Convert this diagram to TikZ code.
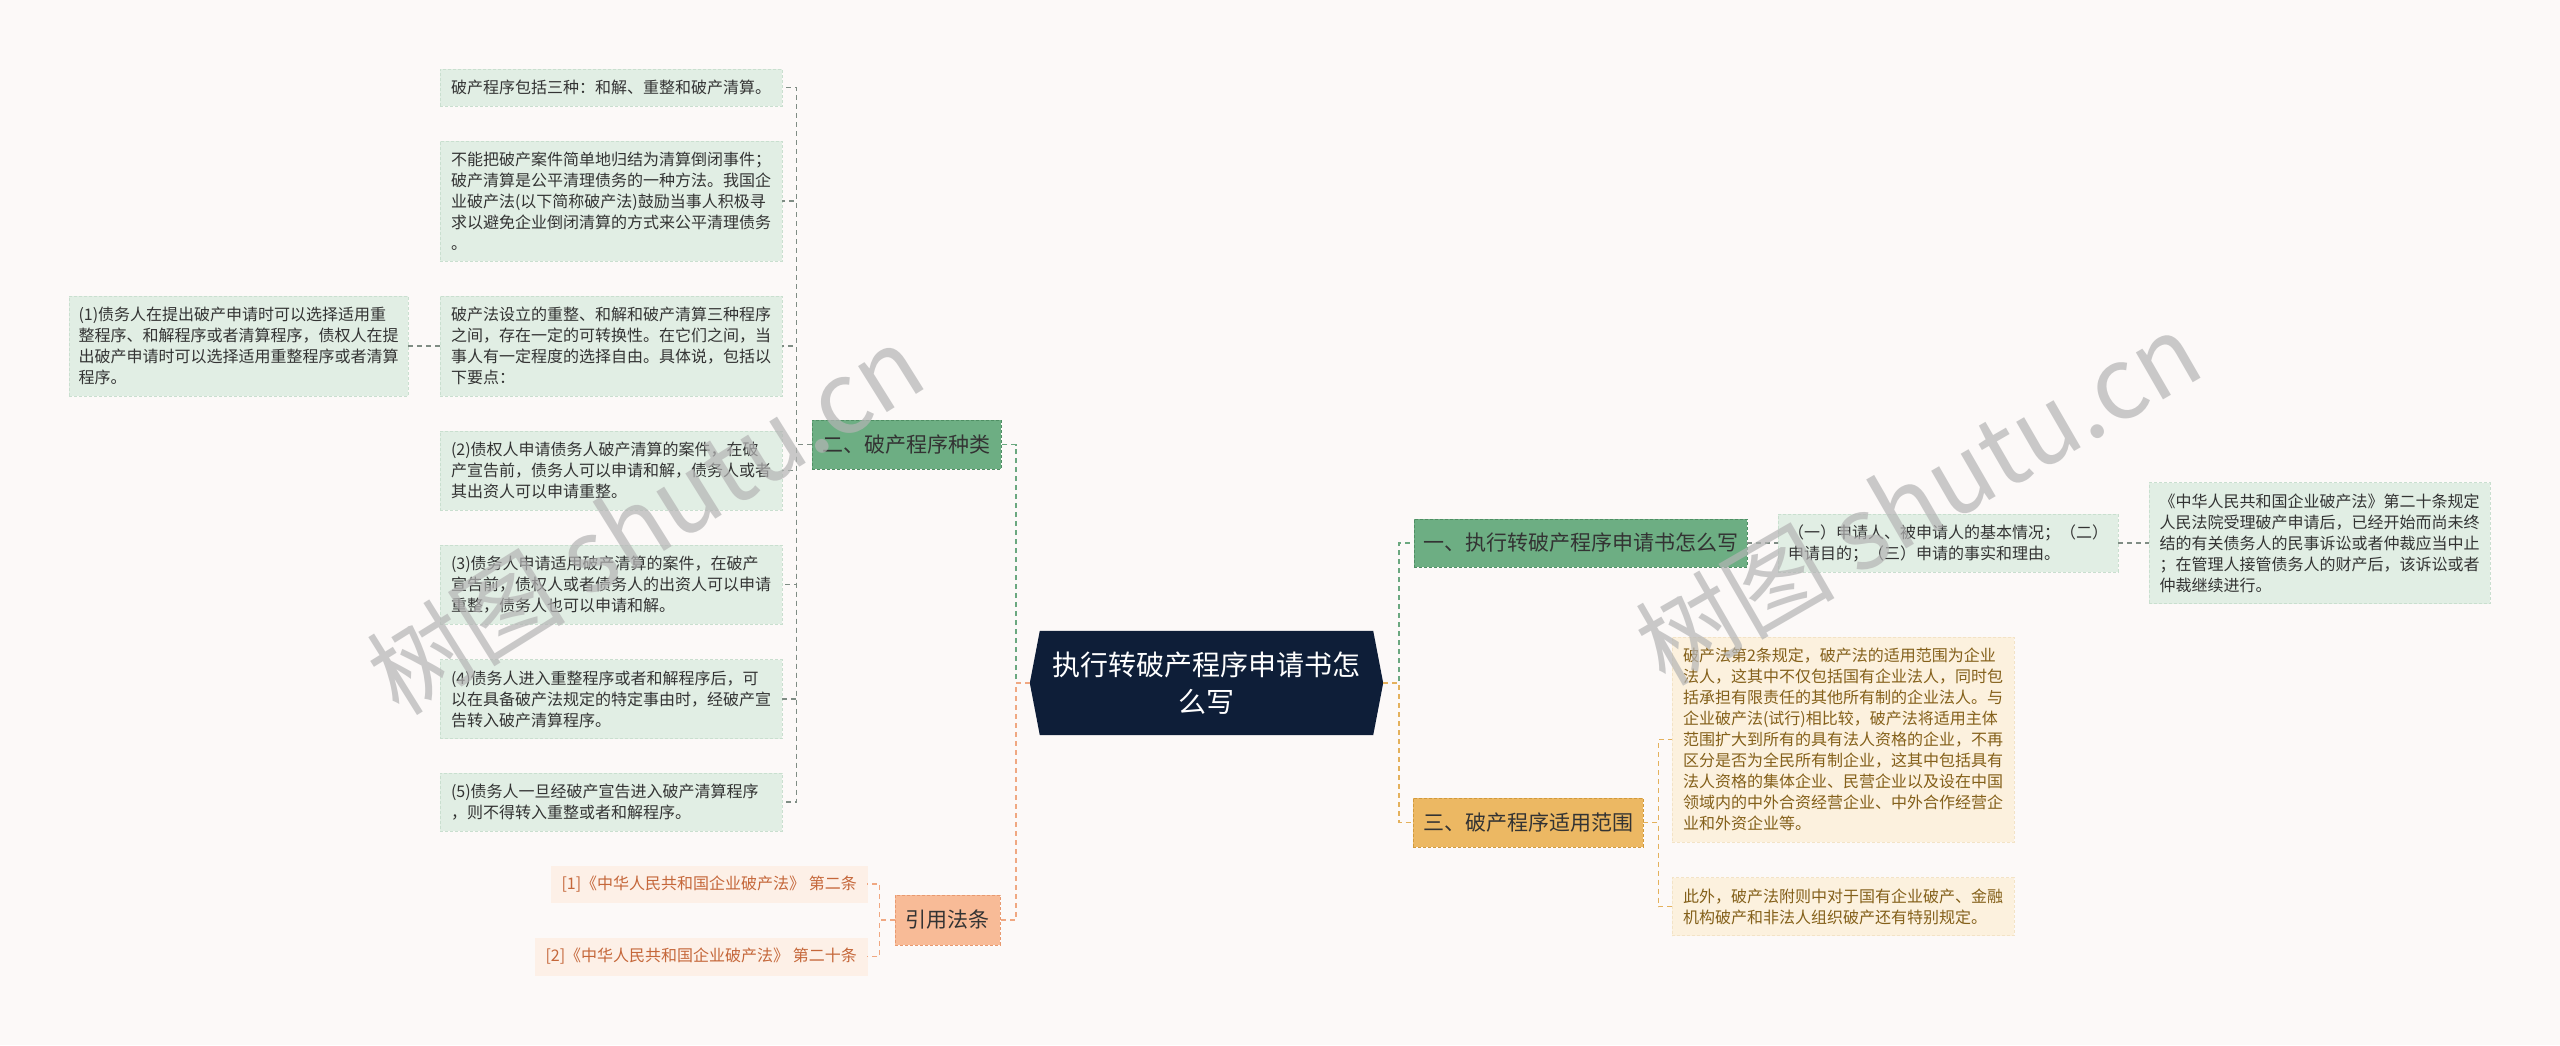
\documentclass[tikz,border=0pt]{standalone}
\usepackage{fontspec}
\setmainfont{Noto Sans CJK SC}
\usetikzlibrary{calc,backgrounds}
\definecolor{bg}{HTML}{FCF9F8}
\definecolor{navy}{HTML}{0E1E38}
\definecolor{mgreen}{HTML}{6DAE83}
\definecolor{mgreenb}{HTML}{4F8F64}
\definecolor{kgreen}{HTML}{E1EEE4}
\definecolor{kgreenb}{HTML}{C9DFCF}
\definecolor{mgold}{HTML}{ECB863}
\definecolor{mgoldb}{HTML}{D29A3C}
\definecolor{kgold}{HTML}{FCF1DE}
\definecolor{kgoldb}{HTML}{F3E3C6}
\definecolor{kgoldt}{HTML}{84601A}
\definecolor{msalm}{HTML}{F8BB97}
\definecolor{msalmb}{HTML}{E89A70}
\definecolor{ksalm}{HTML}{FDF0E7}
\definecolor{ksalmt}{HTML}{C5673A}
\definecolor{egreen}{HTML}{6BA880}
\definecolor{egold}{HTML}{E4B15C}
\definecolor{esalm}{HTML}{F0A882}
\definecolor{egray}{HTML}{7F8C84}
\definecolor{txt}{HTML}{333333}
\definecolor{wm}{HTML}{B4B4B4}
\begin{document}
\begin{tikzpicture}[x=1pt,y=-1pt,
  mainbox/.style={rectangle, draw, dashed, dash pattern=on 3pt off 2pt, line width=0.9pt, text=txt,
    font=\fontsize{21}{25}\selectfont, inner sep=2pt, anchor=center},
  greenmain/.style={mainbox, fill=mgreen, draw=mgreenb},
  goldmain/.style={mainbox, fill=mgold, draw=mgoldb},
  salmmain/.style={mainbox, fill=msalm, draw=msalmb},
  kidbox/.style={rectangle, dashed, dash pattern=on 3pt off 2pt, line width=0.7pt,
    font=\fontsize{16}{21}\selectfont, align=left, text width=320pt, inner xsep=11pt, inner ysep=3pt, anchor=center},
  greenkid/.style={kidbox, fill=kgreen, draw=kgreenb, text=txt},
  goldkid/.style={kidbox, fill=kgold, draw=kgoldb, text=kgoldt},
  citebox/.style={rectangle, fill=ksalm, draw=ksalm, text=ksalmt, font=\fontsize{16}{20}\selectfont,
    inner xsep=10pt, inner ysep=2pt, anchor=east},
  trunk/.style={line width=1.8pt, dash pattern=on 5pt off 4pt},
  twig/.style={line width=1.4pt, dash pattern=on 5pt off 4pt},
]
\useasboundingbox (0,0) rectangle (2560,1045);

% central node
\node[minimum width=333pt, minimum height=104pt, inner sep=0pt, align=center, text=white,
  font=\fontsize{28}{37}\selectfont] (C) at (1206.5,683) {执行转破产程序申请书怎\\么写};
\begin{scope}[on background layer]
\fill[bg] (0,0) rectangle (2560,1045);
\fill[navy] (C.north west) -- (C.north east) -- ($(C.east)+(10,0)$) -- (C.south east)
  -- (C.south west) -- ($(C.west)+(-10,0)$) -- cycle;
\end{scope}
\coordinate (cL) at ($(C.west)+(-10,0)$);
\coordinate (cR) at ($(C.east)+(10,0)$);

% main branches
\node[greenmain, minimum width=189pt, minimum height=49pt] (B2) at (906.5,444.5) {二、破产程序种类};
\node[greenmain, minimum width=333pt, minimum height=48pt] (B1) at (1580.5,543) {一、执行转破产程序申请书怎么写};
\node[goldmain, minimum width=230pt, minimum height=49pt] (B3) at (1528,822.5) {三、破产程序适用范围};
\node[salmmain, minimum width=105pt, minimum height=50pt] (B4) at (947.5,920) {引用法条};

% left children
\node[greenkid, minimum height=37pt] (L1) at (611,87.5)
  {破产程序包括三种：和解、重整和破产清算。};
\node[greenkid, minimum height=120pt] (L2) at (611,201)
  {不能把破产案件简单地归结为清算倒闭事件；\\破产清算是公平清理债务的一种方法。我国企\\业破产法(以下简称破产法)鼓励当事人积极寻\\求以避免企业倒闭清算的方式来公平清理债务\\。};
\node[greenkid, minimum height=100pt] (L3) at (611,346)
  {破产法设立的重整、和解和破产清算三种程序\\之间，存在一定的可转换性。在它们之间，当\\事人有一定程度的选择自由。具体说，包括以\\下要点：};
\node[greenkid, inner xsep=9.5pt, minimum height=100pt] (L3a) at (238.5,346)
  {(1)债务人在提出破产申请时可以选择适用重\\整程序、和解程序或者清算程序，债权人在提\\出破产申请时可以选择适用重整程序或者清算\\程序。};
\node[greenkid, minimum height=79pt] (L4) at (611,470.5)
  {(2)债权人申请债务人破产清算的案件，在破\\产宣告前，债务人可以申请和解，债务人或者\\其出资人可以申请重整。};
\node[greenkid, minimum height=79pt] (L5) at (611,584.5)
  {(3)债务人申请适用破产清算的案件，在破产\\宣告前，债权人或者债务人的出资人可以申请\\重整，债务人也可以申请和解。};
\node[greenkid, minimum height=79pt] (L6) at (611,699)
  {(4)债务人进入重整程序或者和解程序后，可\\以在具备破产法规定的特定事由时，经破产宣\\告转入破产清算程序。};
\node[greenkid, minimum height=58pt] (L7) at (611,802)
  {(5)债务人一旦经破产宣告进入破产清算程序\\，则不得转入重整或者和解程序。};

% right children of B1
\node[greenkid, inner xsep=10pt, minimum height=58pt] (G1) at (1948,543)
  {（一）申请人、被申请人的基本情况；（二）\\申请目的；（三）申请的事实和理由。};
\node[greenkid, inner xsep=10.5pt, minimum height=121pt] (G2) at (2319.5,543)
  {《中华人民共和国企业破产法》第二十条规定\\人民法院受理破产申请后，已经开始而尚未终\\结的有关债务人的民事诉讼或者仲裁应当中止\\；在管理人接管债务人的财产后，该诉讼或者\\仲裁继续进行。};

% children of B3
\node[goldkid, minimum height=205pt] (O1) at (1843,739.5)
  {破产法第2条规定，破产法的适用范围为企业\\法人，这其中不仅包括国有企业法人，同时包\\括承担有限责任的其他所有制的企业法人。与\\企业破产法(试行)相比较，破产法将适用主体\\范围扩大到所有的具有法人资格的企业，不再\\区分是否为全民所有制企业，这其中包括具有\\法人资格的集体企业、民营企业以及设在中国\\领域内的中外合资经营企业、中外合作经营企\\业和外资企业等。};
\node[goldkid, minimum height=58pt] (O2) at (1843,906.5)
  {此外，破产法附则中对于国有企业破产、金融\\机构破产和非法人组织破产还有特别规定。};

% citations
\node[citebox, minimum height=36pt] (C1) at (867,884) {[1]《中华人民共和国企业破产法》 第二条};
\node[citebox, minimum height=37pt] (C2) at (867,956.5) {[2]《中华人民共和国企业破产法》 第二十条};

% trunk connectors
\draw[trunk, egreen] (cL) -- ++(-14,0) |- (B2.east);
\draw[trunk, esalm] (cL) -- ++(-14,0) |- (B4.east);
\draw[trunk, egreen] (cR) -- ++(16,0) |- (B1.west);
\draw[trunk, egold] (cR) -- ++(16,0) |- (B3.west);

% child connectors
\foreach \n in {L1,L2,L3,L4,L5,L6,L7}
  \draw[twig, egray] (B2.west) -- ++(-15,0) |- (\n.east);
\draw[twig, egray] (L3.west) -- (L3a.east);
\draw[twig, egray] (B1.east) -- (G1.west);
\draw[twig, egray] (G1.east) -- (G2.west);
\draw[twig, egold] (B3.east) -- ++(15,0) |- (O1.west);
\draw[twig, egold] (B3.east) -- ++(15,0) |- (O2.west);
\draw[twig, esalm] (B4.west) -- ++(-15,0) |- (C1.east);
\draw[twig, esalm] (B4.west) -- ++(-15,0) |- (C2.east);

% watermarks
\node[rotate=32, text=wm, opacity=0.7, font=\fontsize{100}{100}\selectfont] (W1) at (645,519) {树图 shutu.cn};
\node[rotate=30, text=wm, opacity=0.7, font=\fontsize{100}{100}\selectfont] (W2) at (1918,498) {树图 shutu.cn};
\end{tikzpicture}
\end{document}
